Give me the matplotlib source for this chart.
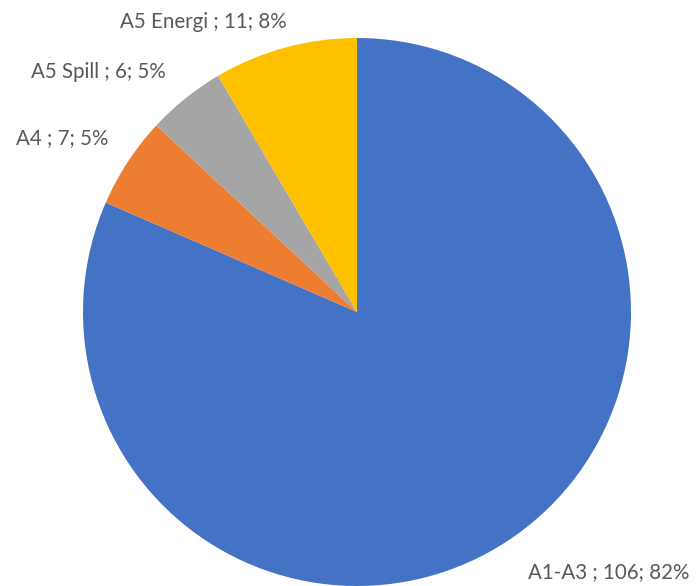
import matplotlib
matplotlib.use("Agg")
import matplotlib.pyplot as plt

# Andel per modul
labels = ["A1-A3", "A4", "A5 Spill", "A5 Energi"]
values = [106, 7, 6, 11]
colors = ["#4472C4", "#ED7D31", "#A5A5A5", "#FFC000"]

# Etikettplassering (piksler, origo nede til venstre)
label_pos = [(609, 14), (62, 448), (98, 514), (203, 564)]

W, H = 696, 586
fig = plt.figure(figsize=(W / 100, H / 100), dpi=100)
ax = fig.add_axes([0, 0, 1, 1])

ax.pie(values, colors=colors, startangle=90, counterclock=False,
       center=(357, 274), radius=274, frame=True)
ax.set_xlim(0, W)
ax.set_ylim(0, H)
ax.set_aspect("equal")
ax.axis("off")

total = sum(values)
for name, v, (x, y) in zip(labels, values, label_pos):
    pct = round(100 * v / total)
    ax.text(x, y, f"{name} ; {v}; {pct}%", ha="center", va="center",
            fontsize=14.8, color="#595959", family="Lato")

fig.savefig("out.png", dpi=100)
